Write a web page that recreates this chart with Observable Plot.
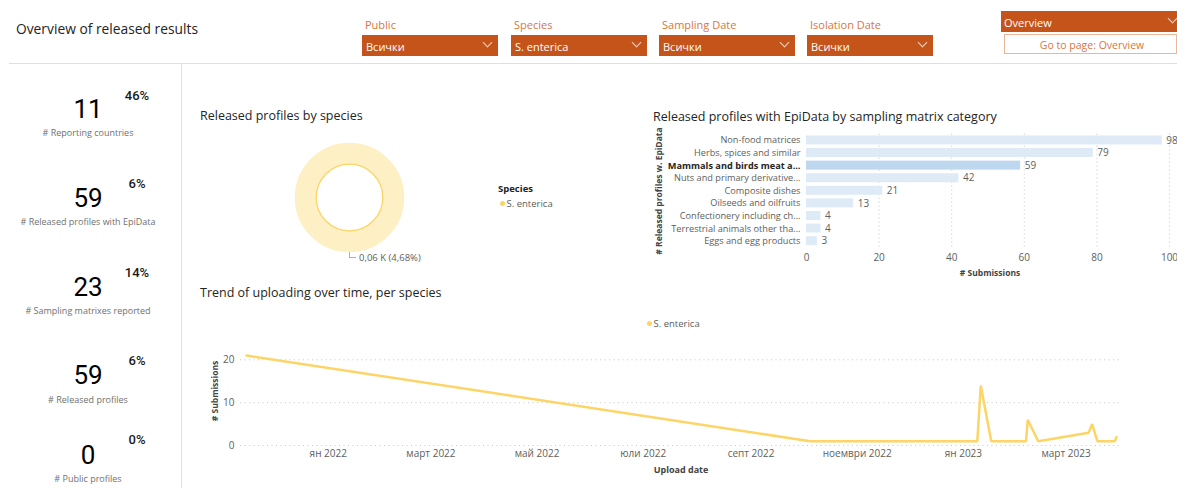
<!DOCTYPE html>
<html><head><meta charset="utf-8">
<script src="https://cdn.jsdelivr.net/npm/d3@7"></script>
<script src="https://cdn.jsdelivr.net/npm/@observablehq/plot@0.6"></script>
<style>
html,body{margin:0;padding:0;background:#fff;}
#root{position:relative;width:1177px;height:488px;overflow:hidden;font-family:"Segoe UI","Open Sans",sans-serif;}
.t{position:absolute;white-space:nowrap;line-height:1;}
.box{position:absolute;box-sizing:border-box;}
.plot{position:absolute;}
.chev{position:absolute;width:6px;height:6px;border-right:1px solid #f4d3c0;border-bottom:1px solid #f4d3c0;transform:rotate(45deg);}
</style></head><body>
<div id="root"></div>
<script>
// ---------------- data ----------------
const pageTitle = "Overview of released results";
const slicerLabels = ["Public", "Species", "Sampling Date", "Isolation Date"];
const slicerValues = ["Всички", "S. enterica", "Всички", "Всички"];
const pageNav = "Overview";
const pageButton = "Go to page: Overview";

const kpiLabels = ["# Reporting countries", "# Released profiles with EpiData", "# Sampling matrixes reported", "# Released profiles", "# Public profiles"];
const kpiValues = [11, 59, 23, 59, 0];
const kpiShares = ["46%", "6%", "14%", "6%", "0%"];

const species = ["S. enterica"];
const speciesProfiles = [60];      // 0,06 K
const speciesShare = [4.68];       // %

const matrixCategories = ["Non-food matrices", "Herbs, spices and similar", "Mammals and birds meat a...", "Nuts and primary derivative...", "Composite dishes", "Oilseeds and oilfruits", "Confectionery including ch...", "Terrestrial animals other tha...", "Eggs and egg products"];
const matrixSubmissions = [98, 79, 59, 42, 21, 13, 4, 4, 3];
const highlightedCategory = "Mammals and birds meat a...";
const barTicks = [0, 20, 40, 60, 80, 100];

const uploadDates = ["2021-11-15", "2022-10-05", "2023-01-09", "2023-01-11", "2023-01-17", "2023-02-06", "2023-02-07", "2023-02-13", "2023-03-14", "2023-03-16", "2023-03-19", "2023-03-29", "2023-03-30"];
const uploadCounts = [21, 1, 1, 14, 1, 1, 6, 1, 3, 5, 1, 1, 2];
const lineTicks = [0, 10, 20];
const monthNames = ["ян", "февр", "март", "апр", "май", "юни", "юли", "авг", "септ", "окт", "ноември", "дек"];

// ---------------- helpers ----------------
const FONT = '"Segoe UI","Open Sans",sans-serif';
const NUMFONT = 'Roboto,"DejaVu Sans",sans-serif';
const root = document.getElementById("root");
function text(str, x, y, o = {}) {
  const d = document.createElement("div");
  d.className = "t";
  d.textContent = str;
  d.style.left = x + "px";
  d.style.top = y + "px";
  d.style.fontFamily = o.family || FONT;
  d.style.fontSize = (o.size || 12) + "px";
  d.style.fontWeight = o.weight || 400;
  d.style.color = o.color || "#252423";
  const tx = o.anchor === "middle" ? "-50%" : o.anchor === "end" ? "-100%" : "0";
  d.style.transform = `translate(${tx},-50%)` + (o.rotate ? ` rotate(${o.rotate}deg)` : "");
  root.appendChild(d);
  return d;
}
function box(x, y, w, h, css) {
  const d = document.createElement("div");
  d.className = "box";
  d.style.cssText = `left:${x}px;top:${y}px;width:${w}px;height:${h}px;` + css;
  root.appendChild(d);
  return d;
}
function place(svg, x, y) {
  const wrap = document.createElement("div");
  wrap.className = "plot";
  wrap.style.left = x + "px";
  wrap.style.top = y + "px";
  wrap.appendChild(svg);
  root.appendChild(wrap);
}

// ---------------- header ----------------
text(pageTitle, 16, 28.5, {size: 13.8});
const ORANGE = "#C5541A";
const slicerBoxes = [[362, 498], [511, 647], [659, 795], [807, 933]];
slicerLabels.forEach((lab, i) => {
  const [x0, x1] = slicerBoxes[i];
  text(lab, x0 + 3, 23.5, {size: 11, color: "#D9763F"});
  box(x0, 35, x1 - x0, 21, `background:${ORANGE};`);
  text(slicerValues[i], x0 + 4, 45.5, {size: 11, color: "#fff"});
  const c = document.createElement("div");
  c.className = "chev";
  c.style.left = (x1 - 14) + "px";
  c.style.top = "39px";
  root.appendChild(c);
});
box(1001, 11, 176, 21, `background:${ORANGE};`);
text(pageNav, 1004, 21.5, {size: 11, color: "#fff"});
const c2 = document.createElement("div"); c2.className = "chev"; c2.style.left = "1169px"; c2.style.top = "15px"; root.appendChild(c2);
box(1004, 34, 173, 20, "border:1px solid #EDB797;background:#fff;");
text(pageButton, 1092, 44.5, {size: 10.5, color: "#D9763F", anchor: "middle"});

// separators
box(9, 63, 1168, 1, "background:#E1DFDD;");
box(181, 63, 1, 425, "background:#E1DFDD;");

// ---------------- KPI cards ----------------
const kpiY = [[94.5, 108.5, 132], [183, 197.5, 221], [272, 287, 310], [360, 375, 398.5], [439, 455, 478]];
kpiValues.forEach((v, i) => {
  const [py, ny, ly] = kpiY[i];
  text(kpiShares[i], 137, py, {size: 13, weight: 500, family: NUMFONT, anchor: "middle", color: "#1a1a1a"});
  text(String(v), 88, ny, {size: 26, family: NUMFONT, anchor: "middle", color: "#000"});
  text(kpiLabels[i], 88, ly, {size: 9, anchor: "middle", color: "#707070"});
});

// ---------------- donut ----------------
text("Released profiles by species", 200, 115.5, {size: 12.5});
const donutData = species.map((s, i) => ({species: s, value: speciesProfiles[i], share: speciesShare[i]}));
const donut = Plot.plot({
  width: 120, height: 112, margin: 0,
  x: {axis: null}, y: {axis: null},
  marks: [
    Plot.dot(donutData, {frameAnchor: "middle", r: 44, fill: "none", stroke: "#FEF0C5", strokeWidth: 21.5}),
    Plot.dot(donutData, {frameAnchor: "middle", r: 33.3, fill: "none", stroke: "#FDD466", strokeWidth: 1.3})
  ]
});
place(donut, 289, 141);
box(349, 252, 7, 6, "border-left:1px solid #B3B0AD;border-bottom:1px solid #B3B0AD;");
const fmt = v => v.toFixed(2).replace(".", ",");
text(`${fmt(donutData[0].value / 1000)} K (${fmt(donutData[0].share)}%)`, 359, 257.5, {size: 9.5, color: "#605E5C"});
text("Species", 498, 189, {size: 9.5, weight: 700, color: "#252423"});
box(499.5, 200.5, 5, 5, "border-radius:50%;background:#FDD466;");
text(species[0], 506.5, 203.5, {size: 9.5, color: "#605E5C"});

// ---------------- bar chart ----------------
text("Released profiles with EpiData by sampling matrix category", 653, 116.5, {size: 12.5});
const barData = matrixCategories.map((c, i) => ({category: c, value: matrixSubmissions[i]}));
const bars = Plot.plot({
  width: 532, height: 155,
  marginLeft: 161, marginRight: 8, marginTop: 8.7, marginBottom: 33.1,
  style: {fontFamily: FONT, fontSize: "10px", color: "#605E5C", background: "transparent"},
  x: {domain: [0, 100], axis: null},
  y: {domain: matrixCategories, axis: null, paddingInner: 0.285, paddingOuter: 0.14, round: false},
  marks: [
    Plot.gridX(barTicks.slice(1), {stroke: "#C8C6C4", strokeOpacity: 1, strokeDasharray: "1,3"}),
    Plot.barX(barData.filter(d => d.category !== highlightedCategory), {y: "category", x: "value", fill: "#DEEBF7"}),
    Plot.barX(barData.filter(d => d.category === highlightedCategory), {y: "category", x: "value", fill: "#BDD7EE"}),
    Plot.text(barData, {y: "category", x: "value", text: d => String(d.value), dx: 4, textAnchor: "start", fill: "#605E5C", fontSize: 10}),
    Plot.axisY(matrixCategories.filter(c => c !== highlightedCategory), {tickSize: 0, tickPadding: 6, label: null, fontSize: 9.2}),
    Plot.axisY([highlightedCategory], {tickSize: 0, tickPadding: 6, label: null, fontSize: 9.2, fontWeight: "bold", fill: "#252423"}),
    Plot.axisX(barTicks, {tickSize: 0, tickPadding: 6, label: null, fontSize: 10})
  ]
});
place(bars, 645, 125);
text("# Released profiles w. EpiData", 658.8, 190.8, {size: 8.5, weight: 700, color: "#444", anchor: "middle", rotate: -90});
text("# Submissions", 990, 272.5, {size: 8.5, weight: 700, color: "#444", anchor: "middle"});

// ---------------- line chart ----------------
text("Trend of uploading over time, per species", 200, 293, {size: 12.5});
box(646.5, 320.5, 5, 5, "border-radius:50%;background:#FDD466;");
text(species[0], 653.5, 323.5, {size: 9.5, color: "#605E5C"});
const lineData = uploadDates.map((d, i) => ({date: new Date(d + "T00:00:00Z"), count: uploadCounts[i]}));
const monthTicks = d3.utcMonth.every(2).range(new Date("2022-01-01T00:00:00Z"), new Date("2023-04-01T00:00:00Z"));
const line = Plot.plot({
  width: 987, height: 148,
  marginLeft: 50, marginRight: 57, marginTop: 19.3, marginBottom: 43,
  insetLeft: 6, insetRight: 4,
  style: {fontFamily: FONT, fontSize: "10px", color: "#605E5C", background: "transparent"},
  x: {type: "utc", domain: d3.extent(lineData, d => d.date), axis: null},
  y: {domain: [0, 20], axis: null},
  marks: [
    Plot.gridY(lineTicks, {stroke: "#C8C6C4", strokeOpacity: 1, strokeDasharray: "1,3.5"}),
    Plot.axisY(lineTicks, {tickSize: 0, tickPadding: 6, label: null, fontSize: 10}),
    Plot.axisX(monthTicks, {tickSize: 0, tickPadding: 4, label: null, fontSize: 10,
      tickFormat: d => `${monthNames[d.getUTCMonth()]} ${d.getUTCFullYear()}`}),
    Plot.line(lineData, {x: "date", y: "count", stroke: "#FDD466", strokeWidth: 2.5, strokeLinejoin: "miter"})
  ]
});
place(line, 190, 340);
text("# Submissions", 215, 391, {size: 8.5, weight: 700, color: "#444", anchor: "middle", rotate: -90});
text("Upload date", 681, 469, {size: 9, weight: 700, color: "#444", anchor: "middle"});
</script>
</body></html>
